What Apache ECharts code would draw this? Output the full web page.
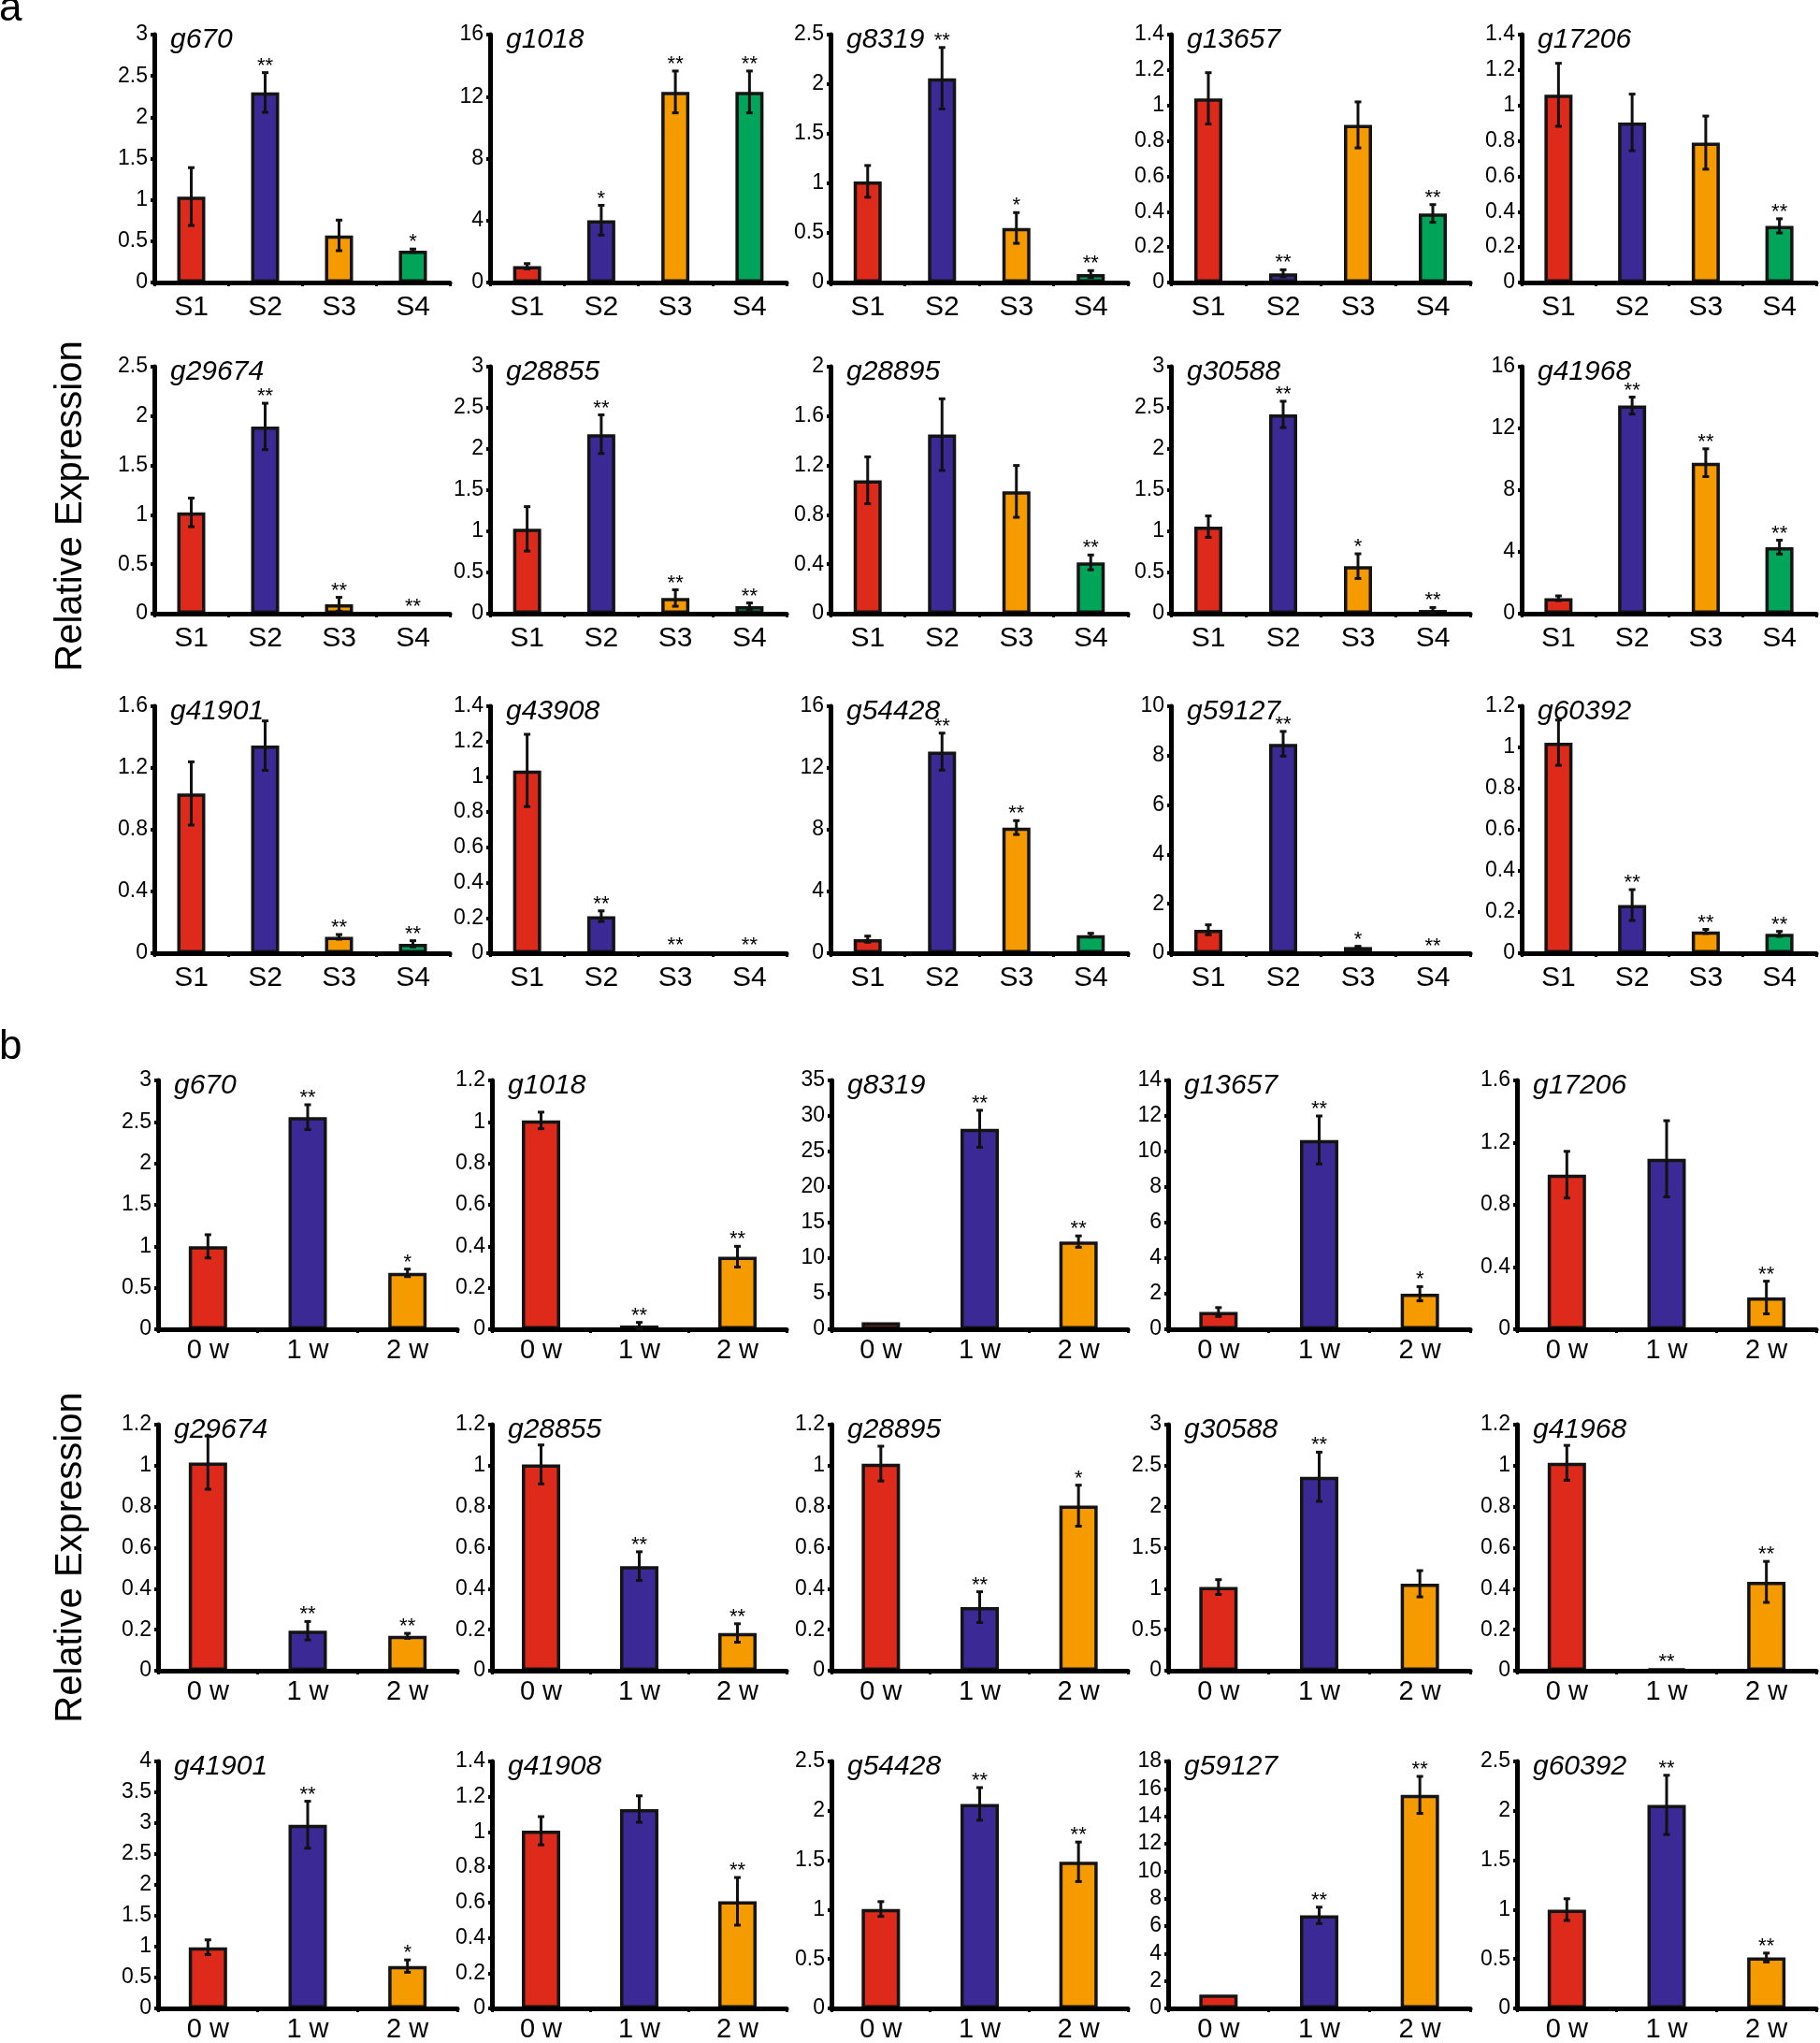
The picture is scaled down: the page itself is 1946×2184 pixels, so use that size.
<!DOCTYPE html>
<html>
<head>
<meta charset="utf-8">
<script src="https://cdn.jsdelivr.net/npm/echarts@6/dist/echarts.min.js"></script>
<style>
html,body{margin:0;padding:0;background:#fff;}
#chart{width:1946px;height:2184px;}
</style>
</head>
<body>
<div id="chart"></div>
<script>
// ---------------- DATA ----------------
const catsA = ['S1', 'S2', 'S3', 'S4'];
const catsB = ['0 w', '1 w', '2 w'];

const genesA = ['g670','g1018','g8319','g13657','g17206',
                'g29674','g28855','g28895','g30588','g41968',
                'g41901','g43908','g54428','g59127','g60392'];
const yMaxA  = [3, 16, 2.5, 1.4, 1.4,  2.5, 3, 2, 3, 16,  1.6, 1.4, 16, 10, 1.2];
const yStepA = [0.5, 4, 0.5, 0.2, 0.2, 0.5, 0.5, 0.4, 0.5, 4, 0.4, 0.2, 4, 2, 0.2];
const meansA = [
  [1.04, 2.30, 0.57, 0.385],
  [1.05, 4.02, 12.3, 12.3],
  [1.02, 2.06, 0.55, 0.085],
  [1.04, 0.052, 0.89, 0.39],
  [1.06, 0.904, 0.79, 0.32],
  [1.025, 1.895, 0.095, 0.005],
  [1.03, 2.18, 0.19, 0.09],
  [1.08, 1.45, 0.99, 0.415],
  [1.057, 2.42, 0.577, 0.045],
  [1.0, 13.48, 9.78, 4.31],
  [1.035, 1.345, 0.106, 0.061],
  [1.036, 0.21, 0.003, 0.003],
  [0.91, 13.06, 8.14, 1.17],
  [0.95, 8.48, 0.25, 0.01],
  [1.023, 0.234, 0.106, 0.094]
];
const errsA = [
  [0.35, 0.24, 0.185, 0.02],
  [0.17, 0.96, 1.35, 1.35],
  [0.16, 0.31, 0.155, 0.035],
  [0.145, 0.02, 0.13, 0.05],
  [0.178, 0.16, 0.15, 0.04],
  [0.145, 0.235, 0.07, 0],
  [0.27, 0.235, 0.1, 0.04],
  [0.19, 0.29, 0.21, 0.06],
  [0.13, 0.16, 0.15, 0.03],
  [0.15, 0.55, 0.9, 0.45],
  [0.205, 0.16, 0.015, 0.02],
  [0.205, 0.03, 0, 0],
  [0.2, 1.2, 0.45, 0.12],
  [0.2, 0.5, 0.03, 0],
  [0.11, 0.075, 0.01, 0.012]
];
const starsA = [
  ['', '**', '', '*'],
  ['', '*', '**', '**'],
  ['', '**', '*', '**'],
  ['', '**', '', '**'],
  ['', '', '', '**'],
  ['', '**', '**', '**'],
  ['', '**', '**', '**'],
  ['', '', '', '**'],
  ['', '**', '*', '**'],
  ['', '**', '**', '**'],
  ['', '', '**', '**'],
  ['', '**', '**', '**'],
  ['', '**', '**', ''],
  ['', '**', '*', '**'],
  ['', '**', '**', '**']
];

const genesB = ['g670','g1018','g8319','g13657','g17206',
                'g29674','g28855','g28895','g30588','g41968',
                'g41901','g41908','g54428','g59127','g60392'];
const yMaxB  = [3, 1.2, 35, 14, 1.6,  1.2, 1.2, 1.2, 3, 1.2,  4, 1.4, 2.5, 18, 2.5];
const yStepB = [0.5, 0.2, 5, 2, 0.4,  0.2, 0.2, 0.2, 0.5, 0.2, 0.5, 0.2, 0.5, 2, 0.5];
const meansB = [
  [1.0, 2.557, 0.68],
  [1.007, 0.018, 0.35],
  [1.0, 28.2, 12.33],
  [0.97, 10.65, 2.0],
  [0.994, 1.096, 0.204],
  [1.015, 0.195, 0.17],
  [1.006, 0.51, 0.184],
  [1.01, 0.31, 0.805],
  [1.02, 2.365, 1.06],
  [1.014, 0.008, 0.433],
  [0.99, 2.975, 0.685],
  [1.007, 1.13, 0.607],
  [1.006, 2.07, 1.484],
  [1.0, 6.78, 15.56],
  [1.0, 2.06, 0.515]
];
const errsB = [
  [0.14, 0.15, 0.045],
  [0.04, 0.015, 0.05],
  [0, 2.6, 0.8],
  [0.25, 1.35, 0.4],
  [0.15, 0.245, 0.105],
  [0.13, 0.045, 0.012],
  [0.095, 0.07, 0.045],
  [0.085, 0.075, 0.1],
  [0.09, 0.3, 0.16],
  [0.085, 0, 0.1],
  [0.12, 0.38, 0.1],
  [0.08, 0.075, 0.135],
  [0.075, 0.165, 0.2],
  [0, 0.6, 1.35],
  [0.11, 0.3, 0.045]
];
const starsB = [
  ['', '**', '*'],
  ['', '**', '**'],
  ['', '**', '**'],
  ['', '**', '*'],
  ['', '', '**'],
  ['', '**', '**'],
  ['', '**', '**'],
  ['', '**', '*'],
  ['', '**', ''],
  ['', '**', '**'],
  ['', '**', '*'],
  ['', '', '**'],
  ['', '**', '**'],
  ['', '**', '**'],
  ['', '**', '**']
];

// ---------------- STYLE / LAYOUT ----------------
const barColors = ['#dd2a1b', '#3b2a96', '#f59b00', '#00a55a'];
const FONT = '"Liberation Sans", Arial, Helvetica, sans-serif';

const colLeftA  = [165, 524, 888, 1252, 1627];
const colRightA = [481, 841, 1206, 1572, 1942];
const rowTopA   = [37, 392, 755];
const rowZeroA  = [302, 656, 1019];
const colLeftB  = [169, 526, 889, 1249, 1622];
const colRightB = [489, 841, 1206, 1572, 1942];
const rowTopB   = [1155, 1523, 1883];
const rowZeroB  = [1421, 1786, 2151];

const grids = [], xAxes = [], yAxes = [], series = [], graphics = [];

function addPanel(gene, cats, means, errs, stars, ymax, ystep, left, right, top, zero, barW, labelMargin, labelSize) {
  const idx = grids.length;
  grids.push({left: left, top: top, width: right - left, height: zero - top, containLabel: false});
  xAxes.push({
    type: 'category', gridIndex: idx, data: cats, z: 3,
    axisLine: {show: true, lineStyle: {color: '#000', width: 5}},
    axisTick: {show: true, length: 4, lineStyle: {color: '#000', width: 3}},
    axisLabel: {interval: 0, fontSize: labelSize, color: '#000', margin: labelMargin, fontFamily: FONT},
    splitLine: {show: false}
  });
  yAxes.push({
    type: 'value', gridIndex: idx, min: 0, max: ymax, interval: ystep,
    axisLine: {show: true, lineStyle: {color: '#000', width: 5}},
    axisTick: {show: true, length: 4, lineStyle: {color: '#000', width: 4}},
    axisLabel: {fontSize: 23, color: '#000', margin: 7, fontFamily: FONT,
                formatter: v => String(+v.toFixed(3))},
    splitLine: {show: false}
  });
  series.push({
    type: 'bar', xAxisIndex: idx, yAxisIndex: idx, barWidth: barW, animation: false,
    itemStyle: {borderColor: '#141414', borderWidth: 3.5},
    data: means.map((v, j) => ({value: v, itemStyle: {color: barColors[j]}}))
  });
  series.push({
    type: 'custom', xAxisIndex: idx, yAxisIndex: idx, animation: false, z: 5,
    data: means.map((v, j) => [j, v, errs[j]]),
    renderItem: function (params, api) {
      const x = api.value(0), m = api.value(1), e = api.value(2);
      const topPt = api.coord([x, m + e]);
      const botPt = api.coord([x, Math.max(0, m - e)]);
      const children = [];
      if (e > 0) {
        const ls = {stroke: '#111', lineWidth: 3};
        children.push({type: 'line', shape: {x1: topPt[0], y1: topPt[1], x2: botPt[0], y2: botPt[1]}, style: ls});
        children.push({type: 'line', shape: {x1: topPt[0] - 3.5, y1: topPt[1], x2: topPt[0] + 3.5, y2: topPt[1]}, style: ls});
        children.push({type: 'line', shape: {x1: botPt[0] - 3.5, y1: botPt[1], x2: botPt[0] + 3.5, y2: botPt[1]}, style: ls});
      }
      const s = stars[params.dataIndex];
      if (s) {
        children.push({type: 'text', style: {
          text: s, x: topPt[0], y: topPt[1] - 7,
          align: 'center', verticalAlign: 'middle',
          textAlign: 'center', textVerticalAlign: 'middle',
          font: '22px ' + FONT, fill: '#000'
        }});
      }
      return {type: 'group', children: children};
    }
  });
  graphics.push({
    type: 'text', x: left + 17, y: top + 6,
    style: {text: gene, font: 'italic 30px ' + FONT, fill: '#000',
            align: 'left', verticalAlign: 'middle', textAlign: 'left', textVerticalAlign: 'middle'}
  });
}

for (let i = 0; i < 15; i++) {
  const r = Math.floor(i / 5), c = i % 5;
  addPanel(genesA[i], catsA, meansA[i], errsA[i], starsA[i], yMaxA[i], yStepA[i],
           colLeftA[c], colRightA[c], rowTopA[r], rowZeroA[r], 30, 12, 30);
}
for (let i = 0; i < 15; i++) {
  const r = Math.floor(i / 5), c = i % 5;
  addPanel(genesB[i], catsB, meansB[i], errsB[i], starsB[i], yMaxB[i], yStepB[i],
           colLeftB[c], colRightB[c], rowTopB[r], rowZeroB[r], 41, 8, 29);
}

graphics.push({type: 'text', x: -1, y: 10,
  style: {text: 'a', font: '44px ' + FONT, fill: '#000', align: 'left', verticalAlign: 'middle', textAlign: 'left', textVerticalAlign: 'middle'}});
graphics.push({type: 'text', x: -1, y: 1120,
  style: {text: 'b', font: '44px ' + FONT, fill: '#000', align: 'left', verticalAlign: 'middle', textAlign: 'left', textVerticalAlign: 'middle'}});
graphics.push({type: 'text', x: 76, y: 541, rotation: Math.PI / 2,
  style: {text: 'Relative Expression', font: '40px ' + FONT, fill: '#000', align: 'center', verticalAlign: 'middle', textAlign: 'center', textVerticalAlign: 'middle'}});
graphics.push({type: 'text', x: 76, y: 1665, rotation: Math.PI / 2,
  style: {text: 'Relative Expression', font: '40px ' + FONT, fill: '#000', align: 'center', verticalAlign: 'middle', textAlign: 'center', textVerticalAlign: 'middle'}});

const chart = echarts.init(document.getElementById('chart'), null, {renderer: 'canvas'});
chart.setOption({
  backgroundColor: '#fff',
  animation: false,
  grid: grids,
  xAxis: xAxes,
  yAxis: yAxes,
  series: series,
  graphic: graphics
});
</script>
</body>
</html>
